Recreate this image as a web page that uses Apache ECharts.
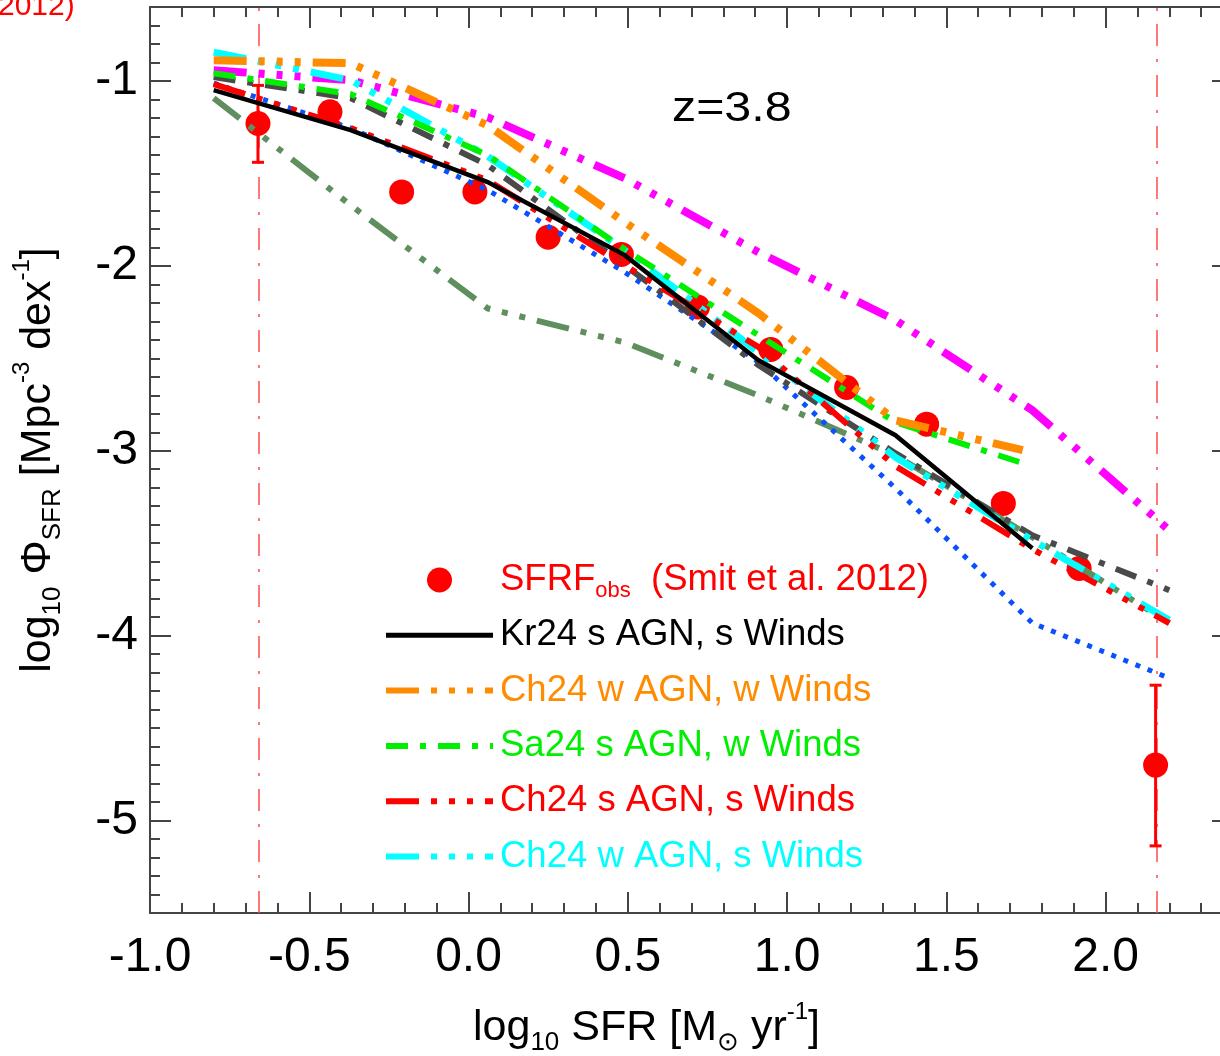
<!DOCTYPE html>
<html><head><meta charset="utf-8">
<script src="https://cdn.jsdelivr.net/npm/echarts@6/dist/echarts.min.js"></script>
<style>html,body{margin:0;padding:0;background:#fff;overflow:hidden;width:1220px;height:1056px}#c{width:1240px;height:1056px}</style>
</head><body><div id="c"></div>
<script>
// ---- tick labels ----
const xTicks = [-1.0, -0.5, 0.0, 0.5, 1.0, 1.5, 2.0];
const xTickLabels = ['-1.0', '-0.5', '0.0', '0.5', '1.0', '1.5', '2.0'];
const yTicks = [-5, -4, -3, -2, -1];
const yTickLabels = ['-5', '-4', '-3', '-2', '-1'];

// ---- observations (Smit et al. 2012) ----
const obsX = [-0.661, -0.435, -0.210, 0.020, 0.250, 0.480, 0.719, 0.949, 1.187, 1.438, 1.679, 1.917, 2.157];
const obsY = [-1.230, -1.167, -1.600, -1.600, -1.845, -1.938, -2.222, -2.452, -2.658, -2.856, -3.285, -3.637, -4.700];
const errX = [-0.661, 2.157];
const errLow = [-1.440, -5.137];
const errHigh = [-1.024, -4.268];
const limitX = [-0.661, 2.157];

// ---- models ----
const modelX = [-0.8, -0.37, 0.06, 0.49, 0.91, 1.34, 1.77, 2.2];
const kr24X = [-0.8, -0.37, 0.06, 0.49, 0.91, 1.34, 1.77];
const shortX = [-0.8, -0.37, 0.06, 0.49, 0.91, 1.34, 1.74];
const kr24sAGNsW = [-1.050, -1.266, -1.547, -1.942, -2.510, -2.916, -3.527];
const ch24wAGNwW = [-0.888, -0.904, -1.240, -1.764, -2.256, -2.835, -2.997];
const sa24sAGNwW = [-0.958, -1.071, -1.401, -1.910, -2.375, -2.845, -3.067];
const ch24sAGNsW = [-1.017, -1.255, -1.537, -1.997, -2.439, -3.083, -3.532, -3.932];
const ch24wAGNsW = [-0.844, -0.996, -1.407, -1.915, -2.467, -3.035, -3.484, -3.916];
const magentaModel = [-0.942, -0.996, -1.196, -1.526, -1.926, -2.294, -2.781, -3.430];
const grayModel = [-0.979, -1.093, -1.455, -1.996, -2.537, -3.013, -3.457, -3.754];
const blueModel = [-1.012, -1.255, -1.590, -2.034, -2.520, -3.202, -3.932, -4.230];
const seaGreenModel = [-1.093, -1.672, -2.230, -2.414, -2.701, -3.025, -3.468, -3.932];

const FONT = '"Liberation Sans", Arial, Helvetica, sans-serif';
const AX = '#444';
const DDD = [33, 12, 6, 12, 6, 12, 6, 12];   // dash dot dot dot
const DD = [22, 12, 6, 12];                  // dash dot
const DOT = [5, 8];

const xMinor = []; for (let i = -10; i <= 24; i++) xMinor.push(i / 10);
const yMinor = []; for (let i = -55; i <= -6; i++) yMinor.push(i / 10);

function pair(xs, ys) { return xs.map((x, i) => [x, ys[i]]); }
function lab(ticks, labels) {
  return v => { const i = ticks.findIndex(t => Math.abs(t - v) < 1e-6); return i >= 0 ? labels[i] : ''; };
}

function xAx(pos, major, showLabel, extra) {
  return Object.assign({
    type: 'value', gridIndex: 0, position: pos, min: -1, max: 2.4,
    axisLine: { show: major, onZero: false, lineStyle: { color: AX, width: 2 } },
    axisTick: { show: true, inside: true, length: major ? 21 : 10, customValues: major ? xTicks : xMinor, lineStyle: { color: AX, width: 2 } },
    axisLabel: { show: showLabel, customValues: xTicks, formatter: lab(xTicks, xTickLabels), margin: 21, fontSize: 48, color: '#000', fontFamily: FONT },
    splitLine: { show: false }, minorTick: { show: false }
  }, extra || {});
}
function yAx(pos, major, showLabel, extra) {
  return Object.assign({
    type: 'value', gridIndex: 0, position: pos, min: -5.5, max: -0.6,
    axisLine: { show: major, onZero: false, lineStyle: { color: AX, width: 2 } },
    axisTick: { show: true, inside: true, length: major ? 21 : 10, customValues: major ? yTicks : yMinor, lineStyle: { color: AX, width: 2 } },
    axisLabel: { show: showLabel, customValues: yTicks, formatter: lab(yTicks, yTickLabels), margin: 12, fontSize: 48, color: '#000', fontFamily: FONT },
    splitLine: { show: false }, minorTick: { show: false }
  }, extra || {});
}

const richAxis = {
  m: { fontSize: 43, lineHeight: 56, fontFamily: FONT, color: '#000' },
  s: { fontSize: 26, lineHeight: 26, verticalAlign: 'bottom', fontFamily: FONT, color: '#000' },
  p: { fontSize: 24, lineHeight: 24, verticalAlign: 'top', fontFamily: FONT, color: '#000' }
};

function lineSeries(name, xs, ys, color, width, type, z) {
  return {
    type: 'line', name: name, data: pair(xs, ys), xAxisIndex: 0, yAxisIndex: 0,
    symbol: 'none', showSymbol: false, smooth: false, z: z,
    lineStyle: { color: color, width: width, type: type, cap: 'butt', join: 'miter' },
    itemStyle: { color: color }, emphasis: { disabled: true }
  };
}
const hideSym = { opacity: 0, borderWidth: 0 };

const chart = echarts.init(document.getElementById('c'), null, { renderer: 'canvas' });
chart.setOption({
  animation: false,
  backgroundColor: '#fff',
  grid: { left: 150, top: 7, width: 1083, height: 906, containLabel: false, outerBoundsMode: 'none' },
  xAxis: [
    xAx('bottom', true, true, {
      name: '{m|log}{s|10}{m| SFR [M}{s|⊙}{m| yr}{p|-1}{m|]}',
      nameLocation: 'middle', nameGap: 87,
      nameTextStyle: { rich: richAxis, padding: [0, 90, 0, 0] }
    }),
    xAx('top', true, false),
    xAx('bottom', false, false),
    xAx('top', false, false)
  ],
  yAxis: [
    yAx('left', true, true, {
      name: '{m|log}{s|10}{m| Φ}{s|SFR}{m| [Mpc}{p|-3}{m| dex}{p|-1}{m|]}',
      nameLocation: 'middle', nameGap: 84, nameRotate: 90,
      nameTextStyle: { rich: richAxis }
    }),
    yAx('right', true, false),
    yAx('left', false, false),
    yAx('right', false, false)
  ],
  legend: {
    orient: 'vertical', left: 383, top: 558, padding: 0,
    itemWidth: 107, itemHeight: 25, itemGap: 11.3, selectedMode: false,
    lineStyle: { width: 6 },
    textStyle: {
      fontFamily: FONT, fontSize: 36.5, lineHeight: 44, padding: [0, 0, 0, 2],
      rich: {
        m: { fontFamily: FONT, fontSize: 36.5, lineHeight: 44, color: '#ff0000' },
        s: { fontFamily: FONT, fontSize: 22, lineHeight: 22, verticalAlign: 'bottom', color: '#ff0000' }
      }
    },
    formatter: name => name === 'SFRF_obs' ? '{m|SFRF}{s|obs}{m|  (Smit et al. 2012)}' : name,
    data: [
      { name: 'SFRF_obs', icon: 'circle', textStyle: { color: '#ff0000' } },
      { name: 'Kr24 s AGN, s Winds', textStyle: { color: '#000000' }, lineStyle: { width: 5 }, itemStyle: hideSym },
      { name: 'Ch24 w AGN, w Winds', textStyle: { color: '#ff8c00' }, itemStyle: hideSym },
      { name: 'Sa24 s AGN, w Winds', textStyle: { color: '#00ee00' }, itemStyle: hideSym },
      { name: 'Ch24 s AGN, s Winds', textStyle: { color: '#ff0000' }, itemStyle: hideSym },
      { name: 'Ch24 w AGN, s Winds', textStyle: { color: '#00ffff' }, itemStyle: hideSym }
    ]
  },
  graphic: [
    { type: 'text', x: 672, y: 109, scaleX: 1.15, z: 10,
      style: { text: 'z=3.8', fontSize: 42, fontFamily: FONT, fill: '#000', align: 'left', verticalAlign: 'middle' } },
    { type: 'text', x: -2, y: 7, z: 10,
      style: { text: '2012)', fontSize: 30, fontFamily: FONT, fill: '#ff0000', align: 'left', verticalAlign: 'middle' } }
  ],
  series: [
    {
      type: 'scatter', name: 'SFRF_obs', data: pair(obsX, obsY), xAxisIndex: 0, yAxisIndex: 0,
      symbol: 'circle', symbolSize: 25, itemStyle: { color: '#ff0000', opacity: 1 }, z: 2,
      emphasis: { disabled: true },
      markLine: {
        silent: true, symbol: ['none', 'none'], label: { show: false }, z: 1,
        lineStyle: { color: '#ff4d4d', width: 1.5, type: [22, 13, 3, 13] },
        data: limitX.map(x => ({ xAxis: x }))
      }
    },
    {
      type: 'custom', name: 'err', xAxisIndex: 0, yAxisIndex: 0, z: 2,
      data: errX.map((x, i) => [x, errLow[i], errHigh[i]]),
      encode: { x: 0, y: [1, 2] },
      renderItem: (params, api) => {
        const x = api.value(0);
        const lo = api.coord([x, api.value(1)]);
        const hi = api.coord([x, api.value(2)]);
        const st = { stroke: '#ff0000', lineWidth: 3 };
        return { type: 'group', children: [
          { type: 'line', shape: { x1: lo[0], y1: lo[1], x2: hi[0], y2: hi[1] }, style: st },
          { type: 'line', shape: { x1: lo[0] - 6, y1: lo[1], x2: lo[0] + 6, y2: lo[1] }, style: st },
          { type: 'line', shape: { x1: hi[0] - 6, y1: hi[1], x2: hi[0] + 6, y2: hi[1] }, style: st }
        ] };
      }
    },
    lineSeries('Sea-green model', modelX, seaGreenModel, '#5f8f5f', 6, DDD, 3),
    lineSeries('Blue model', modelX, blueModel, '#0a50ff', 5, DOT, 3),
    lineSeries('Gray model', modelX, grayModel, '#4a4a4a', 6, DD, 3),
    lineSeries('Magenta model', modelX, magentaModel, '#ff00ff', 8, DDD, 3),
    lineSeries('Ch24 w AGN, s Winds', modelX, ch24wAGNsW, '#00ffff', 7, DDD, 4),
    lineSeries('Ch24 s AGN, s Winds', modelX, ch24sAGNsW, '#ff0000', 6, DDD, 4),
    lineSeries('Sa24 s AGN, w Winds', shortX, sa24sAGNwW, '#00ee00', 6, DD, 4),
    lineSeries('Ch24 w AGN, w Winds', shortX, ch24wAGNwW, '#ff8c00', 8, DDD, 4),
    lineSeries('Kr24 s AGN, s Winds', kr24X, kr24sAGNsW, '#000000', 4.5, 'solid', 5)
  ]
});
</script>
</body></html>
